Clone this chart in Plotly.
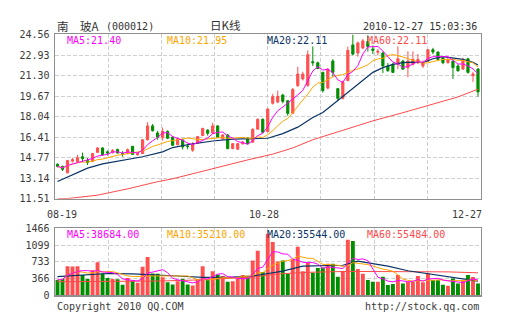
import plotly.graph_objects as go
import pandas as pd

# ---------------- data ----------------
x_tick_labels = ["08-19", "10-28", "12-27"]
price_ticks = [11.51, 13.14, 14.77, 16.41, 18.04, 19.67, 21.30, 22.93, 24.56]
vol_ticks = [0, 366, 733, 1099, 1466]

opens = [14.26, 14.08, 13.57, 14.50, 14.47, 14.85, 14.55, 14.50, 15.20, 15.55,
         15.24, 15.20, 15.42, 15.10, 15.15, 15.68, 15.00, 15.11, 16.20, 17.30,
         16.74, 16.40, 16.86, 16.40, 15.81, 16.19, 15.70, 15.37, 15.94, 16.53,
         16.97, 16.74, 17.30, 16.27, 16.58, 15.50, 15.45, 15.89, 16.32, 16.01,
         17.04, 17.82, 16.85, 19.10, 19.20, 19.75, 19.30, 18.30, 20.50, 21.03,
         20.52, 22.40, 22.32, 21.55, 20.30, 22.45, 20.26, 19.49, 20.90, 23.73,
         23.09, 23.48, 24.00, 23.40, 23.15, 23.09, 22.06, 22.19, 22.19, 22.45,
         21.93, 22.19, 22.32, 22.06, 22.45, 23.35, 23.17, 22.71, 22.32, 22.45,
         22.06, 21.81, 22.63, 21.29, 21.81]
highs = [14.32, 14.15, 14.60, 14.75, 15.00, 15.18, 14.75, 15.15, 15.60, 15.60,
         15.35, 15.45, 15.50, 15.30, 15.50, 15.70, 15.20, 16.25, 17.60, 17.45,
         16.90, 17.17, 16.95, 16.50, 16.35, 16.27, 15.89, 16.01, 16.50, 17.15,
         17.04, 17.56, 17.35, 16.65, 16.66, 15.95, 15.95, 16.10, 16.40, 17.10,
         17.90, 17.90, 18.70, 19.85, 20.10, 19.85, 19.35, 20.30, 22.00, 21.60,
         23.30, 23.61, 22.40, 21.60, 21.90, 22.60, 20.30, 20.90, 23.60, 24.56,
         24.00, 24.20, 24.50, 23.70, 23.40, 23.20, 22.30, 22.30, 23.61, 22.55,
         23.22, 23.22, 23.00, 22.50, 23.40, 23.50, 23.20, 22.80, 22.70, 22.50,
         22.20, 22.70, 22.70, 21.60, 21.90]
lows = [14.00, 13.72, 13.55, 14.40, 14.45, 14.42, 14.20, 14.45, 15.15, 14.95,
        14.95, 15.10, 15.10, 14.85, 15.05, 15.00, 14.95, 15.05, 16.15, 16.85,
        16.20, 16.14, 16.25, 15.70, 15.75, 15.42, 15.45, 15.24, 15.90, 16.50,
        16.53, 16.66, 16.35, 16.20, 15.45, 15.45, 15.40, 15.80, 15.85, 15.95,
        17.00, 16.75, 16.80, 19.00, 19.10, 19.10, 18.10, 18.25, 20.40, 20.90,
        20.40, 22.06, 21.80, 19.95, 20.20, 21.20, 19.30, 19.40, 20.85, 22.90,
        22.80, 23.40, 23.20, 23.00, 22.90, 21.50, 21.60, 21.50, 21.81, 21.75,
        21.16, 22.10, 22.20, 21.90, 22.40, 23.00, 22.50, 22.20, 22.25, 21.03,
        21.60, 21.75, 21.45, 20.80, 19.62]
closes = [14.08, 13.85, 14.55, 14.62, 14.78, 14.70, 14.40, 15.10, 15.55, 15.00,
          15.15, 15.35, 15.15, 15.05, 15.42, 15.04, 15.11, 16.20, 17.30, 16.92,
          16.40, 16.86, 16.32, 15.76, 16.27, 15.63, 15.66, 15.81, 16.45, 17.10,
          16.71, 17.30, 16.40, 16.58, 15.50, 15.89, 15.89, 16.01, 15.89, 17.04,
          17.82, 16.79, 18.64, 19.62, 19.65, 19.25, 18.30, 20.20, 21.42, 21.42,
          22.96, 22.32, 21.86, 20.10, 21.80, 21.55, 19.49, 20.78, 23.30, 23.00,
          23.89, 24.05, 23.60, 23.30, 23.22, 22.06, 21.68, 21.55, 22.63, 21.81,
          22.45, 22.58, 22.58, 22.32, 23.35, 23.17, 22.58, 22.32, 22.58, 21.93,
          21.68, 22.58, 21.55, 21.42, 20.00]
volumes = [340, 361, 638, 630, 640, 446, 361, 553, 723, 478,
           383, 361, 355, 234, 383, 329, 276, 627, 839, 482,
           475, 397, 291, 240, 312, 361, 240, 219, 361, 638,
           340, 531, 457, 425, 298, 308, 372, 446, 393, 765,
           978, 510, 1349, 1169, 744, 765, 482, 780, 1063, 531,
           723, 495, 601, 610, 695, 690, 410, 531, 1218, 1190,
           580, 474, 340, 298, 300, 410, 227, 249, 446, 261,
           298, 295, 425, 290, 482, 340, 335, 234, 213, 368,
           261, 319, 446, 404, 261]

# moving averages whose history starts before the window
ma20_idx = [0, 4, 6, 9, 13, 17, 21, 23, 27, 31, 35, 39, 42, 45, 48, 51, 53, 55,
            57, 59, 61, 63, 65, 67, 69, 71, 73, 75, 77, 79, 81, 83, 84]
ma20_val = [12.88, 13.55, 13.95, 14.29, 14.60, 14.85, 15.24, 15.58, 15.88, 16.10,
            16.25, 16.28, 16.32, 16.69, 17.20, 17.97, 18.36, 19.00, 19.65, 20.30,
            20.94, 21.55, 21.93, 22.19, 22.32, 22.37, 22.32, 22.63, 22.80, 22.71,
            22.58, 22.35, 22.14]
ma60_idx = [0, 2, 8, 14, 20, 23, 28, 34, 38, 43, 47, 51, 57, 63, 69, 75, 80, 84]
ma60_val = [11.51, 11.53, 11.80, 12.30, 12.87, 13.10, 13.60, 14.21, 14.60, 15.06,
            15.55, 16.20, 16.95, 17.70, 18.35, 19.00, 19.60, 20.22]
vma20_idx = [0, 5, 10, 15, 20, 25, 29, 35, 39, 42, 45, 49, 53, 57, 60, 63, 66,
             70, 75, 79, 84]
vma20_val = [410, 450, 480, 470, 450, 420, 395, 400, 425, 470, 530, 640, 655, 660,
             750, 700, 640, 540, 460, 390, 315]
vma60_idx = [0, 10, 20, 27, 33, 39, 44, 50, 58, 70, 78, 84]
vma60_val = [300, 305, 315, 335, 360, 400, 470, 505, 525, 525, 515, 495]

header_name = "南　玻A"
header_code = "(000012)"
header_title = "日K线"
header_time = "2010-12-27 15:03:36"
price_legend = ["MA5:21.40", "MA10:21.95", "MA20:22.11", "MA60:22.11"]
vol_legend = ["MA5:38684.00", "MA10:35210.00", "MA20:35544.00", "MA60:55484.00"]
footer_left = "Copyright 2010 QQ.COM"
footer_right = "http://stock.qq.com"

# ---------------- style ----------------
W, H = 505, 330
RED = "#ff4f4f"
GREEN = "#008e00"
C_MA5 = "#ff00ff"
C_MA10 = "#ffa500"
C_MA20 = "#0a3366"
C_MA60 = "#ff4a4a"
MONO = "DejaVu Sans Mono, Liberation Mono, monospace"
CJK = "Noto Sans CJK SC, DejaVu Sans Mono"
GRID = "#cfcfcf"
BORDER = "#8f8f8f"
TXT = "#3a3a3a"


def px(x):
    return x / W


def py(y):
    return 1 - y / H


n = len(closes)
idx = list(range(n))
cs = pd.Series(closes)
ma5 = cs.rolling(5, min_periods=1).mean()
ma10 = cs.rolling(10, min_periods=1).mean()
vs = pd.Series(volumes)
vma5 = vs.rolling(5, min_periods=1).mean()
vma10 = vs.rolling(10, min_periods=1).mean()
vcolors = [RED if c >= o else GREEN for o, c in zip(opens, closes)]

fig = go.Figure()
fig.add_trace(go.Candlestick(
    x=idx, open=opens, high=highs, low=lows, close=closes,
    increasing=dict(line=dict(color=RED, width=1), fillcolor=RED),
    decreasing=dict(line=dict(color=GREEN, width=1), fillcolor=GREEN),
    whiskerwidth=0, xaxis="x", yaxis="y", hoverinfo="skip"))
fig.add_trace(go.Scatter(x=ma60_idx, y=ma60_val, mode="lines",
                         line=dict(color=C_MA60, width=1), xaxis="x", yaxis="y"))
fig.add_trace(go.Scatter(x=ma20_idx, y=ma20_val, mode="lines",
                         line=dict(color=C_MA20, width=1.2), xaxis="x", yaxis="y"))
fig.add_trace(go.Scatter(x=idx, y=ma10, mode="lines",
                         line=dict(color=C_MA10, width=1), xaxis="x", yaxis="y"))
fig.add_trace(go.Scatter(x=idx, y=ma5, mode="lines",
                         line=dict(color=C_MA5, width=1), xaxis="x", yaxis="y"))

fig.add_trace(go.Bar(x=idx, y=volumes, marker=dict(color=vcolors, line=dict(width=0)),
                     width=0.78, xaxis="x2", yaxis="y2"))
fig.add_trace(go.Scatter(x=vma60_idx, y=vma60_val, mode="lines",
                         line=dict(color=C_MA60, width=1), xaxis="x2", yaxis="y2"))
fig.add_trace(go.Scatter(x=vma20_idx, y=vma20_val, mode="lines",
                         line=dict(color=C_MA20, width=1.2), xaxis="x2", yaxis="y2"))
fig.add_trace(go.Scatter(x=idx, y=vma10, mode="lines",
                         line=dict(color=C_MA10, width=1), xaxis="x2", yaxis="y2"))
fig.add_trace(go.Scatter(x=idx, y=vma5, mode="lines",
                         line=dict(color=C_MA5, width=1), xaxis="x2", yaxis="y2"))

xdom = [px(55), px(480.5)]
xcommon = dict(range=[-0.5, n - 0.5], domain=xdom, showgrid=True, gridcolor=GRID,
               griddash="4px,2px", gridwidth=1, tick0=-0.5, dtick=n / 8,
               showticklabels=False, ticks="", zeroline=False,
               showline=True, mirror=True, linecolor=BORDER, linewidth=1.5,
               rangeslider=dict(visible=False), fixedrange=True)
ycommon = dict(showgrid=True, gridcolor=GRID, griddash="4px,2px", gridwidth=1,
               zeroline=False, showline=True, mirror=True, linecolor=BORDER,
               linewidth=1.5, ticks="", tickfont=dict(family=MONO, size=10, color=TXT),
               ticklabelstandoff=2, fixedrange=True)

fig.update_layout(
    width=W, height=H, margin=dict(l=0, r=0, t=0, b=0),
    paper_bgcolor="white", plot_bgcolor="white", showlegend=False,
    boxgap=0.38, bargap=0.2,
    xaxis=dict(**xcommon, anchor="y"),
    yaxis=dict(**ycommon, domain=[py(200.5), py(30.5)], range=[price_ticks[0], price_ticks[-1]],
               tickvals=price_ticks, ticktext=[f"{v:.2f}" for v in price_ticks], anchor="x"),
    xaxis2=dict(**xcommon, anchor="y2"),
    yaxis2=dict(**ycommon, domain=[py(300.5), py(231)], range=[vol_ticks[0], vol_ticks[-1]],
                tickvals=vol_ticks, ticktext=[str(v) for v in vol_ticks], anchor="x2"),
)

ann = []


def add_text(text, x, y, xanchor="left", color=TXT, family=MONO, size=10):
    ann.append(dict(text=text, x=px(x), y=py(y), xref="paper", yref="paper",
                    xanchor=xanchor, yanchor="middle", showarrow=False,
                    font=dict(family=family, size=size, color=color)))


add_text(header_name, 54.5, 21.5, family=CJK, size=11.5, color="#333333")
add_text(header_code, 104, 22, size=10, color="#333333")
add_text(header_title, 225, 21, xanchor="center", family=CJK, size=11.5, color="#333333")
add_text(header_time, 478.5, 22, xanchor="right", color="#333333")

ma_cols = [C_MA5, C_MA10, C_MA20, C_MA60]
for k, (t, c) in enumerate(zip(price_legend, ma_cols)):
    add_text(t, 64.5 + 100 * k, 37, color=c)
for k, (t, c) in enumerate(zip(vol_legend, ma_cols)):
    add_text(t, 64.5 + 100 * k, 237.5, color=c)

add_text(x_tick_labels[0], 45, 216.5)
add_text(x_tick_labels[1], 264, 216.5, xanchor="center")
add_text(x_tick_labels[2], 484, 216.5, xanchor="right")

add_text(footer_left, 54.5, 312)
add_text(footer_right, 480.5, 312, xanchor="right")

fig.update_layout(annotations=ann)
fig.write_html("out.html", config=dict(displayModeBar=False, staticPlot=True))
